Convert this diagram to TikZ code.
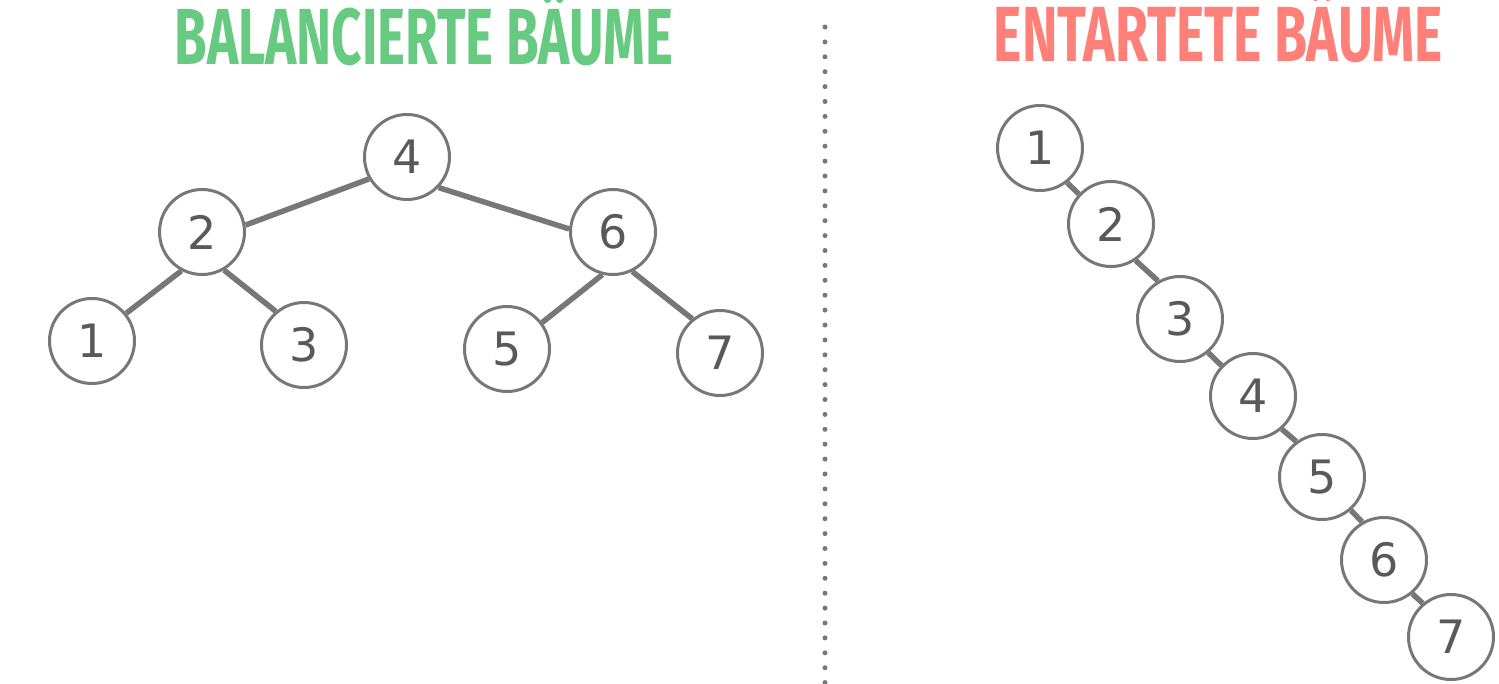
\documentclass[tikz,border=0pt]{standalone}
\usepackage{fontspec}
\usepackage{graphicx}
\setmainfont{DejaVu Sans}
\newfontfamily\titlefont{Fira Sans}
\definecolor{nodegray}{HTML}{777777}
\definecolor{textgray}{HTML}{595959}
\definecolor{titlegreen}{HTML}{66CA80}
\definecolor{titlered}{HTML}{FF7F79}
\newcommand{\captitle}[3]{\resizebox{#1pt}{#2pt}{\raisebox{0pt}[\fontcharht\font`B][0pt]{\titlefont\bfseries #3}}}
\begin{document}
\begin{tikzpicture}[x=1pt,y=-1pt,
  treenode/.style={circle,draw=nodegray,line width=3pt,fill=white,minimum size=85pt,inner sep=0pt,
    text=textgray,font=\fontsize{46}{46}\selectfont},
  treeedge/.style={draw=nodegray,line width=5.5pt},
  titlebox/.style={inner sep=0pt,anchor=south}]
\useasboundingbox (0,0) rectangle (1499,683);
% titles
\node[titlebox,text=titlegreen] (tl) at (424,65) {\captitle{498}{58}{BALANCIERTE BÄUME}};
\node[titlebox,text=titlered] (tr) at (1218.5,62) {\captitle{449}{57}{ENTARTETE BÄUME}};
% divider
\coordinate (dtop) at (825,27);
\coordinate (dbot) at (825,683);
\draw[nodegray,line width=5pt,line cap=round,dash pattern=on 0pt off 14.9pt] (dtop) -- (dbot);
% balanced tree
\node[treenode] (b4) at (407,157) {\raisebox{-4pt}{4}};
\node[treenode] (b2) at (202,232) {\raisebox{-4pt}{2}};
\node[treenode] (b6) at (613,232) {\raisebox{-4pt}{6}};
\node[treenode] (b1) at (92,341) {\raisebox{-4pt}{1}};
\node[treenode] (b3) at (304,345) {\raisebox{-4pt}{3}};
\node[treenode] (b5) at (507,349) {\raisebox{-4pt}{5}};
\node[treenode] (b7) at (720,353) {\raisebox{-4pt}{7}};
\draw[treeedge] (b4.210) -- (b2.9);
\draw[treeedge] (b4.316) -- (b6.176);
\draw[treeedge] (b2.242) -- (b1.39);
\draw[treeedge] (b2.300) -- (b3.130);
\draw[treeedge] (b6.256) -- (b5.37);
\draw[treeedge] (b6.296) -- (b7.129);
% degenerate tree
\node[treenode] (d1) at (1040,148) {\raisebox{-4pt}{1}};
\node[treenode] (d2) at (1111,224) {\raisebox{-4pt}{2}};
\node[treenode] (d3) at (1180,319) {\raisebox{-4pt}{3}};
\node[treenode] (d4) at (1253,396) {\raisebox{-4pt}{4}};
\node[treenode] (d5) at (1322,477) {\raisebox{-4pt}{5}};
\node[treenode] (d6) at (1384,560) {\raisebox{-4pt}{6}};
\node[treenode] (d7) at (1451,637) {\raisebox{-4pt}{7}};
\draw[treeedge] (d1.308) -- (d2.137);
\draw[treeedge] (d2.304) -- (d3.120);
\draw[treeedge] (d3.310) -- (d4.136);
\draw[treeedge] (d4.311) -- (d5.126);
\draw[treeedge] (d5.311) -- (d6.120);
\draw[treeedge] (d6.310) -- (d7.130);
\end{tikzpicture}
\end{document}
